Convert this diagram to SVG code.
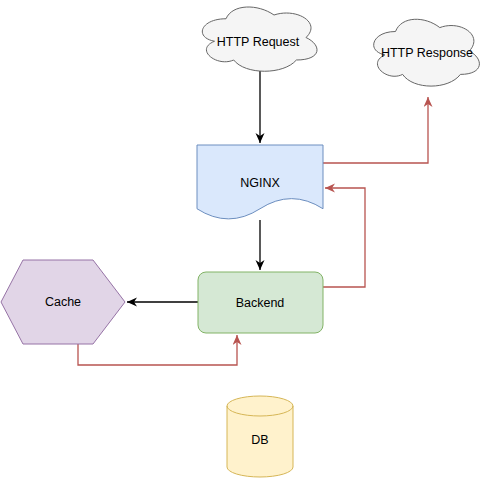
<svg xmlns="http://www.w3.org/2000/svg" width="490" height="480" viewBox="0 0 490 480">
<style>
text{font-family:"Liberation Sans",Arial,Helvetica,sans-serif;font-size:12.5px;fill:#000;text-anchor:middle;dominant-baseline:central}
.cloud{fill:#f5f5f5;stroke:#666666;stroke-width:1}
.blk{fill:none;stroke:#000;stroke-width:1.3}
.red{fill:none;stroke:#b85450;stroke-width:1.3}
</style>
<defs>
<marker id="ab" markerUnits="userSpaceOnUse" markerWidth="12" markerHeight="10" refX="10" refY="4.5" orient="auto" viewBox="0 0 12 10">
<path d="M0,0 L10,4.5 L0,9 L3,4.5 Z" fill="#000"/>
</marker>
<marker id="ar" markerUnits="userSpaceOnUse" markerWidth="12" markerHeight="10" refX="10" refY="4.5" orient="auto" viewBox="0 0 12 10">
<path d="M0,0 L10,4.5 L0,9 L3,4.5 Z" fill="#b85450"/>
</marker>
</defs>
<g id="connectors">
<path class="blk" d="M260,70 V143" marker-end="url(#ab)"/>
<path class="blk" d="M260,220 V270" marker-end="url(#ab)"/>
<path class="blk" d="M198,302 H127" marker-end="url(#ab)"/>
<path class="red" d="M323,163 H428 V97" marker-end="url(#ar)"/>
<path class="red" d="M323,287 H365 V188 H325" marker-end="url(#ar)"/>
<path class="red" d="M78,344 V365 H237 V335" marker-end="url(#ar)"/>
</g>
<g id="http-request">
<path class="cloud" d="M226,18.75 C200.4,18.75 194,37.5 214.5,41.25 C194,49.5 217,67.5 233.7,60 C245.2,75 283.6,75 296.4,60 C322,60 322,45 306,37.5 C322,22.5 296.4,7.5 274,15 C258,3.75 232.4,3.75 226,18.75 Z"/>
<text x="258" y="42">HTTP Request</text>
</g>
<g id="http-response">
<path class="cloud" d="M395.5,31.5 C371.9,31.5 366,51 384.9,54.9 C366,63.5 387.2,82.2 402.6,74.4 C413.2,90 448.6,90 460.4,74.4 C484,74.4 484,58.8 469.3,51 C484,35.4 460.4,19.8 439.8,27.6 C425,15.9 401.4,15.9 395.5,31.5 Z"/>
<text x="427" y="53">HTTP Response</text>
</g>
<g id="nginx">
<path d="M197,145 H323 V208.75 Q291.5,188.5 260,208.75 Q228.5,229 197,208.75 Z" fill="#dae8fc" stroke="#6c8ebf" stroke-width="1"/>
<text x="260" y="183">NGINX</text>
</g>
<g id="backend">
<rect x="198" y="272" width="125" height="61" rx="8" ry="8" fill="#d5e8d4" stroke="#82b366" stroke-width="1"/>
<text x="260" y="303">Backend</text>
</g>
<g id="cache">
<path d="M1,302 L23,260 H93 L125,302 L93,344 H23 Z" fill="#e1d5e7" stroke="#9673a6" stroke-width="1"/>
<text x="63" y="302">Cache</text>
</g>
<g id="db">
<path d="M227,406 A33,10 0 0 1 293,406 V467 A33,10 0 0 1 227,467 Z" fill="#fff2cc" stroke="#d6b656" stroke-width="1"/>
<path d="M227,406 A33,10 0 0 0 293,406" fill="none" stroke="#d6b656" stroke-width="1"/>
<text x="260" y="440">DB</text>
</g>
</svg>
